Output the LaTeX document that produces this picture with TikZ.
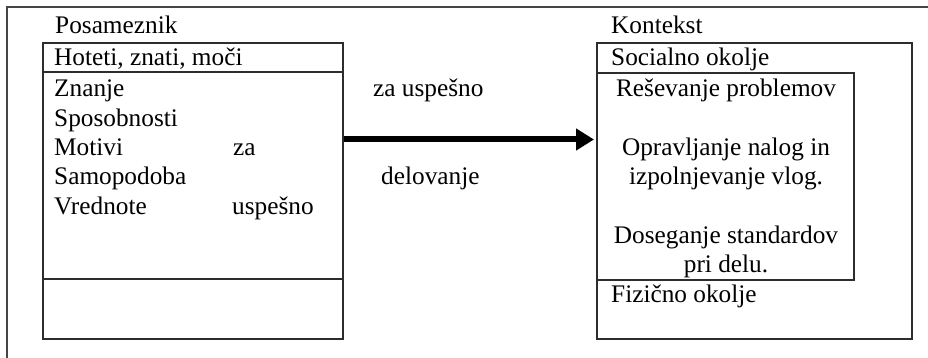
\documentclass[tikz,border=0pt]{standalone}
\usepackage{fontspec}
\setmainfont{Liberation Serif}
\usetikzlibrary{arrows.meta}

\definecolor{frame}{RGB}{70,70,70}
\definecolor{rule}{RGB}{45,45,45}

\begin{document}
\begin{tikzpicture}[x=1pt,y=-1pt,
  txt/.style={inner sep=0pt, anchor=base west, font=\fontsize{25.3}{29.3}\selectfont},
  ctxt/.style={txt, anchor=base},
  boxnode/.style={draw=rule, line width=1.6pt, inner sep=0pt, anchor=north west},
  bigarrow/.style={draw=black, line width=6pt,
    -{Triangle[length=18pt,width=21pt]}, shorten >=2pt}]

  % canvas
  \useasboundingbox (0,0) rectangle (928,358);

  % open outer frame: left and top sides only
  \draw[frame, line width=2pt] (7,358) -- (7,7) -- (928,7);

  % individual (left) box
  \node[boxnode, minimum width=300pt, minimum height=296pt] (lbox) at (42,42) {};
  \node[boxnode, minimum width=300pt, minimum height=29pt] (lhead) at (42,42) {};
  \draw[rule, line width=1.6pt] (lbox.west |- 0,279) coordinate (lsplitL) -- (lbox.east |- 0,279) coordinate (lsplitR);

  % context (right) box
  \node[boxnode, minimum width=315pt, minimum height=296pt] (rbox) at (596,42) {};
  \node[boxnode, minimum width=257pt, minimum height=207pt] (inner) at (596,72) {};

  % labels above the boxes
  \node[txt] (posam) at (55,34) {Posameznik};
  \node[txt] (kont) at (611,34) {Kontekst};

  % left box content
  \node[txt] (hot) at (54,66) {Hoteti, znati, moči};
  \node[txt] (zn)  at (54,97)    {Znanje};
  \node[txt] (sp)  at (54,126.3) {Sposobnosti};
  \node[txt] (mo)  at (54,155.6) {Motivi};
  \node[txt] (sa)  at (54,184.9) {Samopodoba};
  \node[txt] (vr)  at (54,214.2) {Vrednote};
  \node[txt] (za1) at (233,155.6) {za};
  \node[txt] (us1) at (232,214.2) {uspešno};

  % connector between the boxes
  \coordinate (arrowrow) at (0,139.5);
  \draw[bigarrow] (lbox.east |- arrowrow) -- (inner.west |- arrowrow);
  \node[txt] (zaus) at (373,97) {za uspešno};
  \node[txt] (delo) at (381,184.9) {delovanje};

  % right box content
  \node[txt] (soc) at (611,66) {Socialno okolje};
  \node[ctxt] (res) at (726,97)    {Reševanje problemov};
  \node[ctxt] (opr) at (726,155.6) {Opravljanje nalog in};
  \node[ctxt] (izp) at (726,184.9) {izpolnjevanje vlog.};
  \node[ctxt] (dos) at (726,243.5) {Doseganje standardov};
  \node[ctxt] (pri) at (726,272.8) {pri delu.};
  \node[txt] (fiz) at (611,302) {Fizično okolje};
\end{tikzpicture}
\end{document}
